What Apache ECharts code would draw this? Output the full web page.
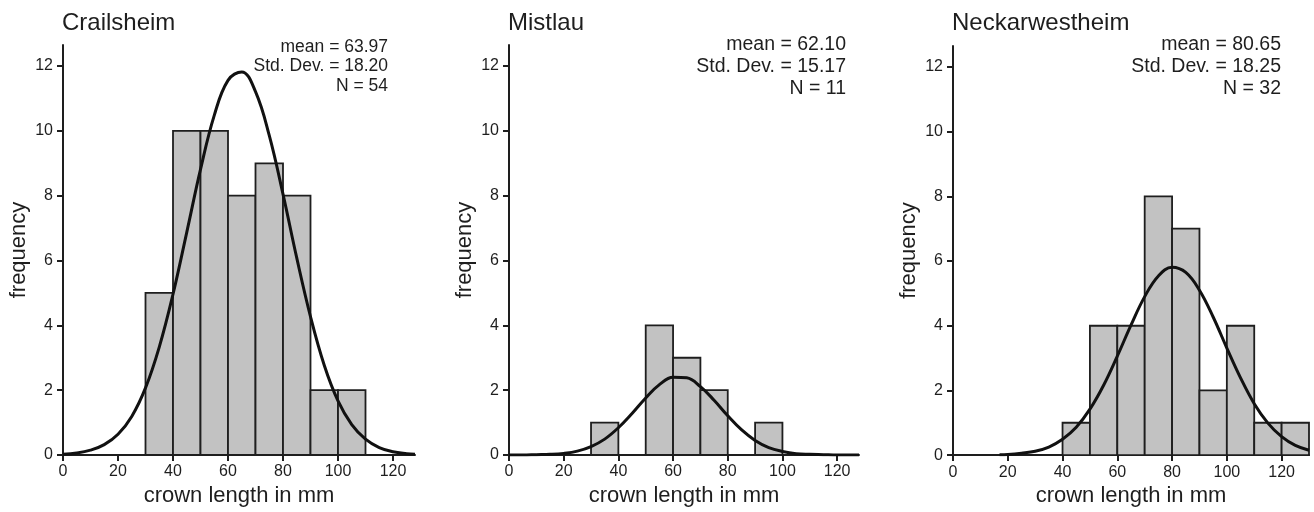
<!DOCTYPE html>
<html>
<head>
<meta charset="utf-8">
<script src="https://cdn.jsdelivr.net/npm/echarts@6/dist/echarts.min.js"></script>
<style>
  html, body { margin: 0; padding: 0; background: #fff; }
  #chart { width: 1314px; height: 512px; }
</style>
</head>
<body>
<div id="chart"></div>
<script>
// sites and summary stats
const sites = ['Crailsheim', 'Mistlau', 'Neckarwestheim']
const means = ['63.97', '62.10', '80.65']
const stdDevs = ['18.20', '15.17', '18.25']
const counts = [54, 11, 32]

// histogram bins (start of 10 mm bin) and frequencies
const crailBins = [30, 40, 50, 60, 70, 80, 90, 100]
const crailFreq = [5, 10, 10, 8, 9, 8, 2, 2]
const mistBins = [30, 50, 60, 70, 90]
const mistFreq = [1, 4, 3, 2, 1]
const neckBins = [40, 50, 60, 70, 80, 90, 100, 110, 120]
const neckFreq = [1, 4, 4, 8, 7, 2, 4, 1, 1]

// fitted normal curves
const crailCurveX = [0, 5, 10, 15, 20, 25, 30, 35, 40, 45, 50, 55, 60, 65, 70, 75, 80, 85, 90, 95, 100, 105, 110, 115, 120, 125, 128]
const crailCurveY = [0.02, 0.06, 0.15, 0.32, 0.64, 1.19, 2.07, 3.33, 4.96, 6.87, 8.81, 10.48, 11.56, 11.82, 11.21, 9.86, 8.05, 6.08, 4.27, 2.77, 1.67, 0.94, 0.49, 0.23, 0.10, 0.04, 0.02]
const mistCurveX = [0, 5, 10, 15, 20, 25, 30, 35, 40, 45, 50, 55, 60, 65, 70, 75, 80, 85, 90, 95, 100, 105, 110, 115, 120, 125, 128]
const mistCurveY = [0, 0, 0.01, 0.02, 0.05, 0.12, 0.26, 0.49, 0.84, 1.28, 1.76, 2.17, 2.40, 2.38, 2.11, 1.69, 1.21, 0.78, 0.45, 0.23, 0.11, 0.04, 0.02, 0.01, 0, 0, 0]
const neckCurveX = [17, 20, 25, 30, 35, 40, 45, 50, 55, 60, 65, 70, 75, 80, 85, 90, 95, 100, 105, 110, 115, 120, 125, 130]
const neckCurveY = [0.01, 0.02, 0.06, 0.12, 0.25, 0.49, 0.86, 1.42, 2.16, 3.06, 4.02, 4.90, 5.54, 5.81, 5.65, 5.10, 4.27, 3.31, 2.39, 1.59, 0.99, 0.57, 0.30, 0.15]

const xTicks = [0, 20, 40, 60, 80, 100, 120]
const yTicks = [0, 2, 4, 6, 8, 10, 12]
const binWidth = 10

const font = 'Liberation Sans, Arial, sans-serif'
const ink = '#1e1e1e'

const panels = [
    { bins: crailBins, freq: crailFreq, cx: crailCurveX, cy: crailCurveY, left: 63, top: 45, width: 352, height: 410, xMax: 128, statRight: 388, statTop: 37, statSize: 17.5, statLh: 19.5 },
    { bins: mistBins, freq: mistFreq, cx: mistCurveX, cy: mistCurveY, left: 509, top: 45, width: 350, height: 410, xMax: 128, statRight: 846, statTop: 34, statSize: 19.5, statLh: 22 },
    { bins: neckBins, freq: neckFreq, cx: neckCurveX, cy: neckCurveY, left: 953, top: 46, width: 356, height: 410, xMax: 130, statRight: 1281, statTop: 34, statSize: 19.5, statLh: 22 },
]

function renderBar(params, api) {
    const a = api.coord([api.value(0), 0])
    const b = api.coord([api.value(0) + binWidth, api.value(1)])
    return {
        type: 'rect',
        shape: { x: a[0], y: b[1], width: b[0] - a[0], height: a[1] - b[1] },
        style: { fill: '#c2c2c2', stroke: ink, lineWidth: 1.8 },
    }
}

const axisLine = { show: true, lineStyle: { color: ink, width: 2 } }
const axisTick = { show: true, length: 6, lineStyle: { color: ink, width: 2 } }

const option = {
    animation: false,
    backgroundColor: '#fff',
    title: panels.map((p, i) => ({
        text: sites[i],
        left: p.left - 1,
        top: 11,
        padding: 0,
        textStyle: { fontFamily: font, fontSize: 24, fontWeight: 'normal', color: ink },
    })),
    grid: panels.map((p) => ({ left: p.left, top: p.top, width: p.width, height: p.height })),
    xAxis: panels.map((p, i) => ({
        type: 'value',
        gridIndex: i,
        min: 0,
        max: p.xMax,
        name: 'crown length in mm',
        nameLocation: 'middle',
        nameGap: 23,
        nameTextStyle: { fontFamily: font, fontSize: 22, color: ink },
        axisLine,
        axisTick: { ...axisTick, customValues: xTicks },
        axisLabel: { customValues: xTicks, margin: 9, fontFamily: font, fontSize: 16, color: ink },
        splitLine: { show: false },
    })),
    yAxis: panels.map((p, i) => ({
        type: 'value',
        gridIndex: i,
        min: 0,
        max: 12.65,
        name: 'frequency',
        nameLocation: 'middle',
        nameGap: 33,
        nameTextStyle: { fontFamily: font, fontSize: 22, color: ink },
        axisLine,
        axisTick: { ...axisTick, customValues: yTicks },
        axisLabel: { customValues: yTicks, margin: 10, fontFamily: font, fontSize: 16, color: ink },
        splitLine: { show: false },
    })),
    graphic: panels.map((p, i) => ({
        type: 'text',
        x: p.statRight,
        y: p.statTop,
        style: {
            text: 'mean = ' + means[i] + '\nStd. Dev. = ' + stdDevs[i] + '\nN = ' + counts[i],
            align: 'right',
            verticalAlign: 'top',
            font: p.statSize + 'px ' + font,
            lineHeight: p.statLh,
            fill: ink,
        },
    })),
    series: panels.flatMap((p, i) => [
        {
            type: 'custom',
            xAxisIndex: i,
            yAxisIndex: i,
            renderItem: renderBar,
            data: p.bins.map((b, k) => [b, p.freq[k]]),
        },
        {
            type: 'line',
            xAxisIndex: i,
            yAxisIndex: i,
            smooth: 0.4,
            showSymbol: false,
            lineStyle: { color: '#111', width: 3 },
            data: p.cx.map((x, k) => [x, p.cy[k]]),
            z: 5,
        },
    ]),
}

const chart = echarts.init(document.getElementById('chart'))
chart.setOption(option)
</script>
</body>
</html>
